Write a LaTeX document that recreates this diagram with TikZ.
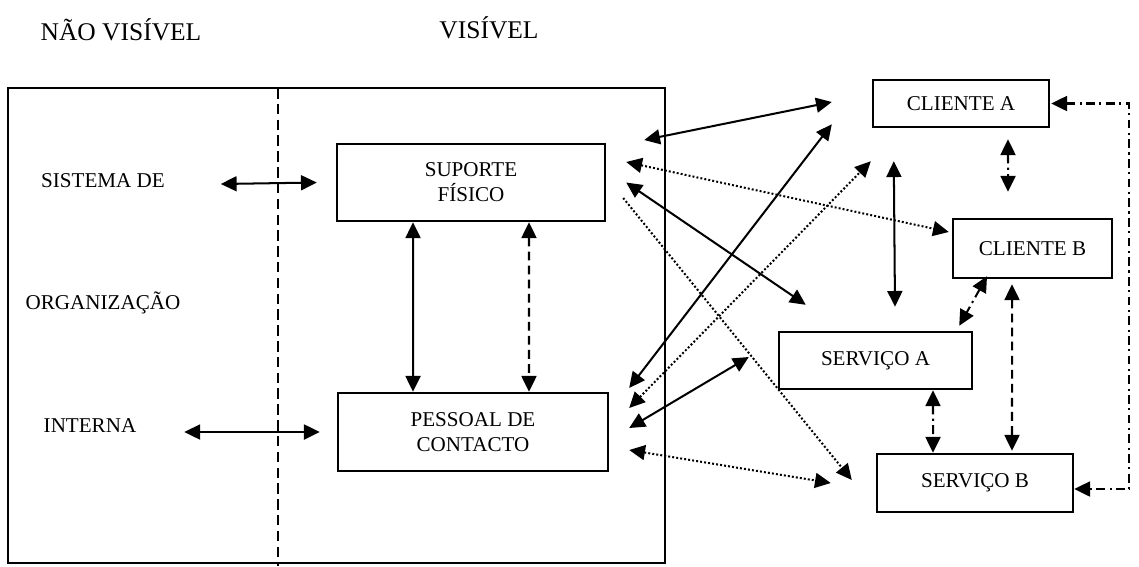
\documentclass[tikz,border=0pt]{standalone}
\usepackage{fontspec}
\setmainfont{Liberation Serif}
\usetikzlibrary{arrows.meta}

\begin{document}
\begin{tikzpicture}[x=0.02cm, y=-0.02cm,
>={Triangle[length=9pt,width=8.5pt]},
line width=1.15pt,
block/.style={draw, line width=1.4pt, rectangle, align=center, inner sep=0pt, font=\fontsize{12}{14.2}\selectfont},
lbl/.style={inner sep=0pt, anchor=base, font=\fontsize{12}{14.2}\selectfont},
head/.style={inner sep=0pt, anchor=base, font=\fontsize{14.5}{17}\selectfont},
dots/.style={dash pattern=on 1.1pt off 1.2pt},
dashes/.style={dash pattern=on 5pt off 3pt},
dashdot/.style={dash pattern=on 5pt off 2.5pt on 1.2pt off 2.5pt}]

\useasboundingbox (0,0) rectangle (1139,566);

% organizacao
\draw[line width=1.4pt] (8,88) rectangle (665,563);
\draw[line width=0.9pt, dash pattern=on 6pt off 3pt] (278,88) -- (278,566);

\node[head] (NV) at (121,40) {NÃO VISÍVEL};
\node[head] (V) at (489,38) {VISÍVEL};
\node[lbl] (L1) at (103,187) {SISTEMA DE};
\node[lbl] (L2) at (103,309) {ORGANIZAÇÃO};
\node[lbl] (L3) at (90,432) {INTERNA};

\node[block, minimum width=5.36cm, minimum height=1.54cm] (SF) at (471,182.5) {SUPORTE\\FÍSICO};
\node[block, minimum width=5.40cm, minimum height=1.56cm] (PC) at (473,432) {PESSOAL DE\\CONTACTO};

% clientes e servicos
\node[block, minimum width=3.52cm, minimum height=0.94cm] (CA) at (961,103.5) {CLIENTE A};
\node[block, minimum width=3.18cm, minimum height=1.18cm] (CB) at (1032.5,248.5) {CLIENTE B};
\node[block, minimum width=3.86cm, minimum height=1.14cm] (SA) at (875.5,360.5) {SERVIÇO A};
\node[block, minimum width=3.92cm, minimum height=1.16cm] (SB) at (975,483) {SERVIÇO B};

\path[<->]
 ([xshift=1.1cm,yshift=0.06cm]L1.base east)   edge ([xshift=-0.38cm]SF.west)
 ([xshift=0.94cm]L3.base east)                edge ([xshift=-0.34cm]PC.west)
 ([xshift=-1.16cm]SF.south)                   edge ([xshift=-1.2cm]PC.north)
 ([xshift=0.76cm,yshift=0.85cm]SF.east)       edge ([xshift=-0.8cm,yshift=0.03cm]CA.west)
 ([xshift=0.4cm]SF.east)                      edge ([xshift=0.56cm,yshift=0.52cm]SA.north west)
 ([xshift=0.4cm,yshift=0.88cm]PC.east)        edge ([xshift=-0.8cm,yshift=0.08cm]CA.south west)
 ([xshift=0.4cm,yshift=0.08cm]PC.east)        edge ([xshift=-0.58cm,yshift=0.07cm]SA.west)
 ([xshift=0.44cm,yshift=-0.66cm]CA.south west) edge ([xshift=0.39cm,yshift=0.48cm]SA.north);

\path[<->, dots]
 ([xshift=0.4cm,yshift=0.41cm]SF.east)        edge ([xshift=-0.06cm,yshift=0.33cm]CB.west)
 ([xshift=0.4cm,yshift=0.48cm]PC.east)        edge ([xshift=-0.02cm,yshift=-0.66cm]CA.south west)
 ([xshift=0.4cm,yshift=-0.36cm]PC.east)       edge ([xshift=-0.9cm]SB.west);
\path[->, dots]
 ([xshift=0.34cm,yshift=-0.31cm]SF.east)      edge ([xshift=-0.48cm,yshift=0.06cm]SB.west);

\path[<->, dashes]
 ([xshift=1.16cm]SF.south)                    edge ([xshift=1.12cm]PC.north)
 ([xshift=-0.41cm,yshift=-0.1cm]CB.south)     edge ([xshift=0.74cm,yshift=0.04cm]SB.north);

\path[<->, dashdot]
 ([xshift=0.94cm,yshift=-0.22cm]CA.south)     edge ([xshift=-0.49cm,yshift=0.52cm]CB.north)
 ([xshift=-0.91cm,yshift=0.06cm]CB.south)     edge ([xshift=-0.28cm,yshift=0.1cm]SA.north east)
 ([xshift=1.15cm]SA.south)                    edge ([xshift=-0.84cm]SB.north);
\draw[<->, dashdot] ([xshift=0.02cm]CA.east) -- ++(1.56cm,0) |- ([yshift=-0.12cm]SB.east);

\end{tikzpicture}
\end{document}
